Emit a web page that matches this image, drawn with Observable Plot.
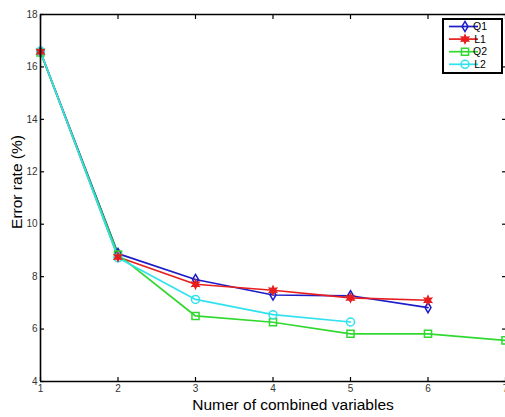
<!DOCTYPE html>
<html><head><meta charset="utf-8">
<script src="https://cdn.jsdelivr.net/npm/d3@7"></script>
<script src="https://cdn.jsdelivr.net/npm/@observablehq/plot@0.6"></script>
<style>
html,body{margin:0;padding:0;background:#fff;}
#chart{position:relative;width:505px;height:417px;overflow:hidden;}
</style>
</head><body><div id="chart"></div>
<script>
// ---- data ----
const seriesNames = ["Q1", "L1", "Q2", "L2"];
const xQ1 = [1, 2, 3, 4, 5, 6];
const yQ1 = [16.58, 8.88, 7.89, 7.30, 7.27, 6.82];
const xL1 = [1, 2, 3, 4, 5, 6];
const yL1 = [16.58, 8.75, 7.71, 7.48, 7.19, 7.10];
const xQ2 = [1, 2, 3, 4, 5, 6, 7];
const yQ2 = [16.55, 8.84, 6.50, 6.26, 5.82, 5.82, 5.57];
const xL2 = [1, 2, 3, 4, 5];
const yL2 = [16.60, 8.72, 7.13, 6.55, 6.27];
const xTicks = [1, 2, 3, 4, 5, 6, 7];
const yTicks = [4, 6, 8, 10, 12, 14, 16, 18];
const xLabel = "Numer of combined variables";
const yLabel = "Error rate (%)";

// ---- styles ----
const colors = ["#1c1cc8", "#e81e1e", "#30d830", "#30e2ee"];
const tallDiamond = {
  draw(ctx, size) {
    const r = Math.sqrt(size) / 2;
    ctx.moveTo(0, -r * 1.45);
    ctx.lineTo(r * 0.85, 0);
    ctx.lineTo(0, r * 1.45);
    ctx.lineTo(-r * 0.85, 0);
    ctx.closePath();
  }
};
const smallStar = {
  draw(ctx, size) {
    const R = Math.sqrt(size) * 0.62, r = R * 0.5;
    for (let i = 0; i < 12; i++) {
      const a = -Math.PI / 2 + i * Math.PI / 6;
      const rr = i % 2 ? r : R;
      const px = rr * Math.cos(a), py = rr * Math.sin(a);
      if (i === 0) ctx.moveTo(px, py); else ctx.lineTo(px, py);
    }
    ctx.closePath();
  }
};
const symbolTypes = [tallDiamond, smallStar, d3.symbolSquare, d3.symbolCircle];
const font = "'Liberation Sans', Arial, Helvetica, sans-serif";

const raw = {Q1: [xQ1, yQ1], L1: [xL1, yL1], Q2: [xQ2, yQ2], L2: [xL2, yL2]};
const data = seriesNames.flatMap(s => raw[s][0].map((x, i) => ({series: s, x, y: raw[s][1][i]})));

const svg = Plot.plot({
  width: 505,
  height: 417,
  marginLeft: 40,
  marginRight: 0,
  marginTop: 14,
  marginBottom: 36,
  style: {fontFamily: font, fontSize: "10px", background: "#fff", color: "#000"},
  x: {domain: [1, 7], label: null},
  y: {domain: [4, 18], label: null},
  color: {domain: seriesNames, range: colors},
  symbol: {domain: seriesNames, range: symbolTypes},
  marks: [
    Plot.line(data, {x: "x", y: "y", z: "series", stroke: "series", strokeWidth: 1.7}),
    Plot.dot(data.filter(d => d.series !== "L1"), {x: "x", y: "y", stroke: "series", symbol: "series", r: 4, strokeWidth: 1.5, fill: "none"}),
    Plot.dot(data.filter(d => d.series === "L1"), {x: "x", y: "y", stroke: "series", fill: "series", symbol: "series", r: 4, strokeWidth: 1.2}),
    Plot.ruleX([1], {stroke: "#000", strokeWidth: 1.6}),
    Plot.ruleY([4, 18], {stroke: "#000", strokeWidth: 1.6}),
    Plot.axisX({ticks: xTicks, tickFormat: d3.format("d"), tickSize: -4, tickPadding: 7, stroke: "#000", fill: "#333", label: null, strokeWidth: 1.2}),
    Plot.axisX({anchor: "top", ticks: xTicks, tickSize: -4, stroke: "#000", fill: "none", label: null, strokeWidth: 1.2}),
    Plot.axisY({ticks: yTicks, tickFormat: d3.format("d"), tickSize: -4, tickPadding: 7, stroke: "#000", fill: "#333", label: null, strokeWidth: 1.2}),
    Plot.axisY({anchor: "right", ticks: yTicks, tickSize: -4, stroke: "#000", fill: "none", label: null, strokeWidth: 1.2})
  ]
});

const root = d3.select(svg);
// axis titles
root.append("text")
  .attr("x", 293).attr("y", 410)
  .attr("text-anchor", "middle")
  .attr("font-family", font).attr("font-size", 15.5).attr("fill", "#000")
  .text(xLabel);
root.append("text")
  .attr("transform", "translate(22,182) rotate(-90)")
  .attr("text-anchor", "middle")
  .attr("font-family", font).attr("font-size", 15.5).attr("fill", "#000")
  .text(yLabel);

// legend
const lg = root.append("g");
lg.append("rect").attr("x", 443).attr("y", 19).attr("width", 59).attr("height", 54)
  .attr("fill", "#fff").attr("stroke", "#000").attr("stroke-width", 2);
seriesNames.forEach((s, i) => {
  const cy = 26.5 + i * 12.6;
  lg.append("line").attr("x1", 449).attr("x2", 478).attr("y1", cy).attr("y2", cy)
    .attr("stroke", colors[i]).attr("stroke-width", 1.7);
  lg.append("path").attr("transform", `translate(465,${cy})`)
    .attr("d", d3.symbol(symbolTypes[i], Math.PI * 16)())
    .attr("stroke", colors[i]).attr("stroke-width", s === "L1" ? 1.2 : 1.5)
    .attr("fill", s === "L1" ? colors[i] : "none");
  lg.append("text").attr("x", 480).attr("y", cy).attr("dy", "0.35em")
    .attr("font-family", font).attr("font-size", 10.5).attr("fill", "#000")
    .text(s);
});

document.getElementById("chart").appendChild(svg);
</script>
</body></html>
